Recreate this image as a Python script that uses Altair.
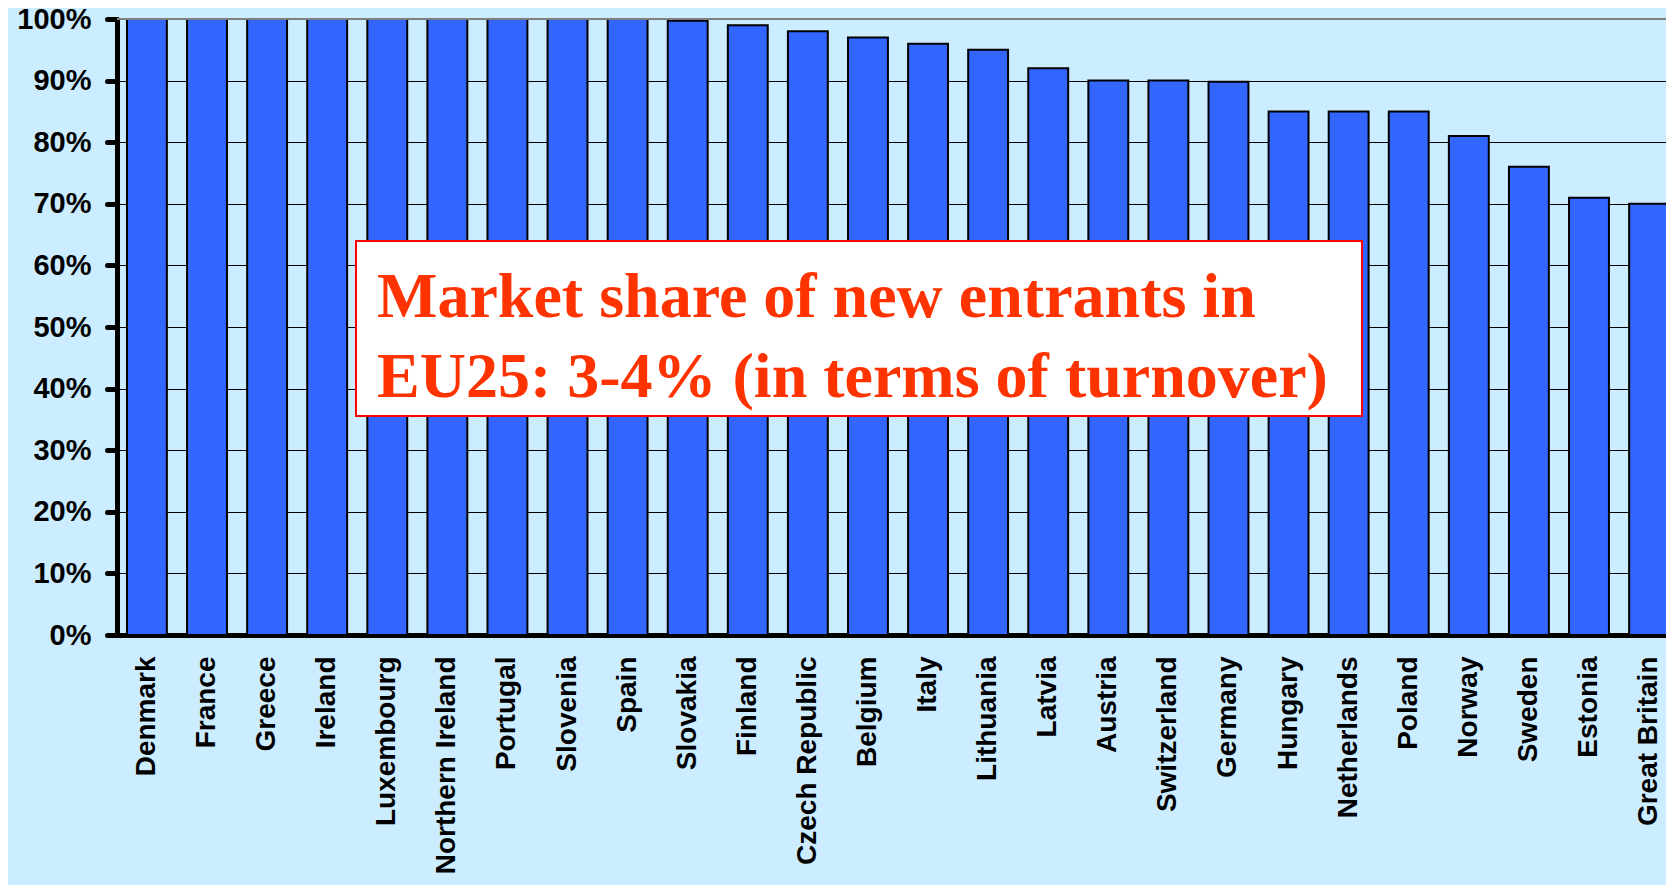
import altair as alt
import pandas as pd

countries = ["Denmark", "France", "Greece", "Ireland", "Luxembourg", "Northern Ireland",
             "Portugal", "Slovenia", "Spain", "Slovakia", "Finland", "Czech Republic",
             "Belgium", "Italy", "Lithuania", "Latvia", "Austria", "Switzerland",
             "Germany", "Hungary", "Netherlands", "Poland", "Norway", "Sweden",
             "Estonia", "Great Britain"]
shares = [100, 100, 100, 100, 100, 100, 100, 100, 100, 99.7, 99, 98, 97, 96, 95, 92,
          90, 90, 89.8, 85, 85, 85, 81, 76, 71, 70]
y_ticks = [0, 10, 20, 30, 40, 50, 60, 70, 80, 90, 100]
note_lines = ["Market share of new entrants in", "EU25: 3-4% (in terms of turnover)"]

df = pd.DataFrame({"country": countries, "share": shares})

W, H = 1549, 616
BG = "#CCECFF"

base = alt.Chart(df)

bars = base.mark_bar(color="#3366FF", stroke="black", strokeWidth=2).encode(
    x=alt.X("country:N", sort=countries, title=None,
            scale=alt.Scale(range=[0, 1562], paddingInner=0.336, paddingOuter=0.166),
            axis=alt.Axis(labelAngle=270, labelFont="Liberation Sans", labelFontWeight="bold",
                          labelFontSize=28, labelColor="black", ticks=False, tickSize=0,
                          labelPadding=21, domainColor="black", domainWidth=5,
                          labelOverlap=False, labelLimit=400)),
    y=alt.Y("share:Q", title=None,
            scale=alt.Scale(domain=[0, 100], nice=False),
            axis=alt.Axis(values=y_ticks, labelExpr="datum.value + '%'",
                          labelFont="Liberation Sans", labelFontWeight="bold",
                          labelFontSize=29, labelColor="black", labelPadding=16,
                          tickSize=10, tickWidth=5, tickColor="black", tickCap="round",
                          domainColor="black", domainWidth=5,
                          grid=True, gridColor="black", gridWidth=1)),
)

top_rule = alt.Chart(pd.DataFrame({"v": [100]})).mark_rule(color="#808080", strokeWidth=2).encode(
    y="v:Q"
)

box = alt.Chart(pd.DataFrame({"a": [0]})).mark_rect(fill="white", stroke="#FF0000", strokeWidth=2).encode(
    x=alt.value(239), x2=alt.value(1245), y=alt.value(222), y2=alt.value(397)
)

note = alt.Chart(pd.DataFrame({"a": [0]})).mark_text(
    text=note_lines, font="Liberation Serif", fontWeight="bold", fontSize=64,
    color="#FF3300", align="left", baseline="alphabetic", lineHeight=80
).encode(x=alt.value(260), y=alt.value(298))

chart = alt.layer(bars, top_rule, box, note).properties(
    width=W, height=H,
    autosize=alt.AutoSizeParams(type="none"),
    padding={"left": 109, "top": 11, "right": 0, "bottom": 250},
    background=BG,
).configure_view(stroke=None, fill=BG)

chart.save("out.html", embed_options={"renderer": "svg", "actions": False})
